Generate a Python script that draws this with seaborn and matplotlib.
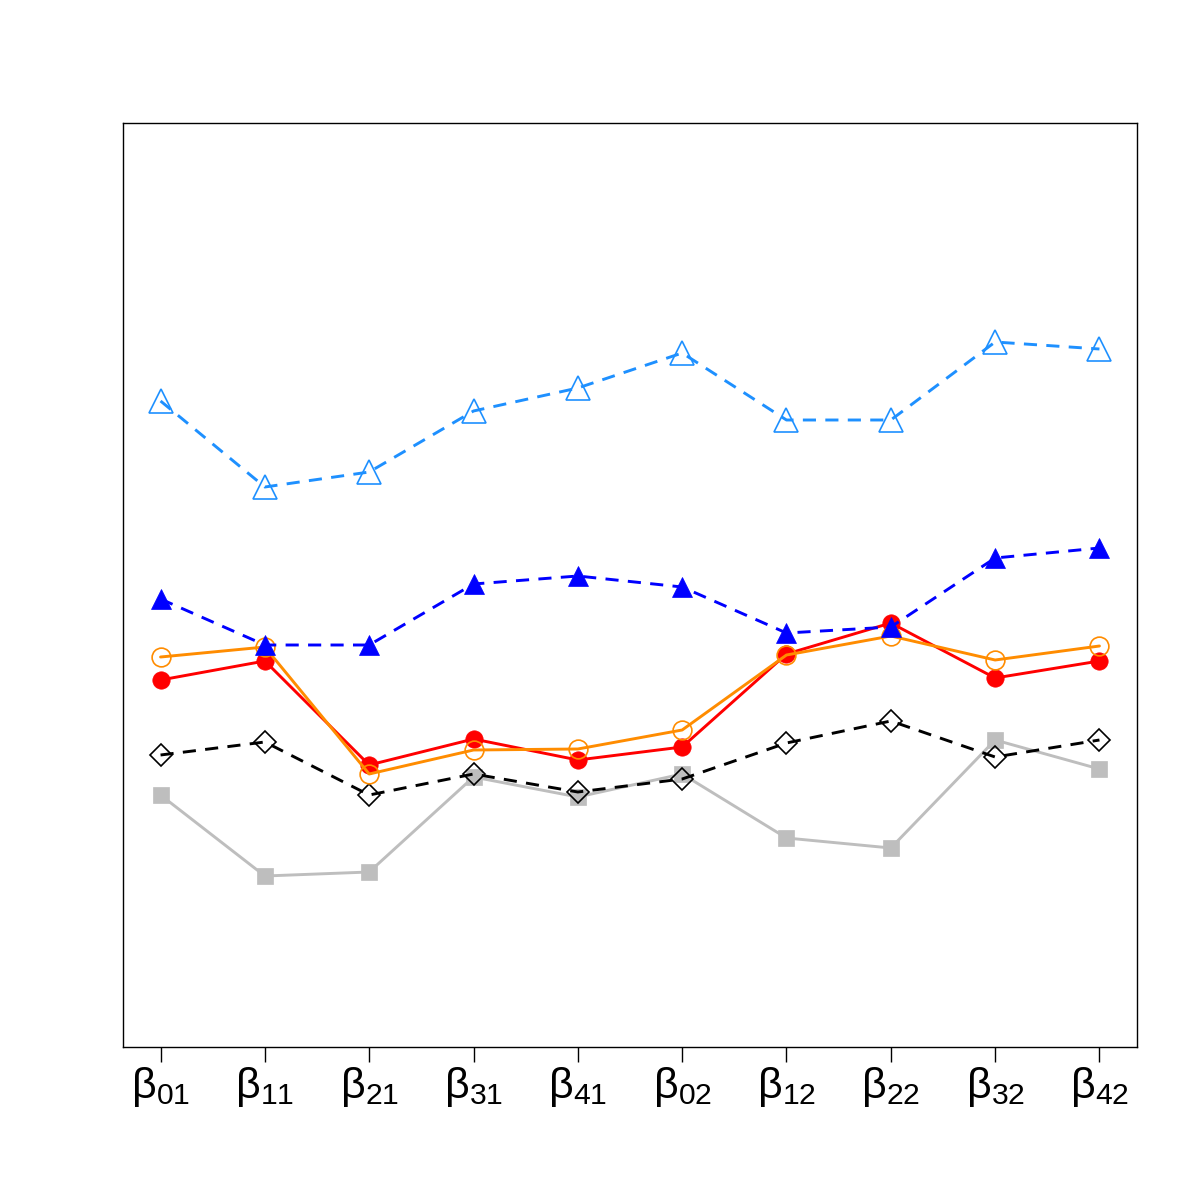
import matplotlib
matplotlib.use("Agg")
import matplotlib.pyplot as plt
import seaborn as sns
import numpy as np

# Parameter labels
params = ["01", "11", "21", "31", "41", "02", "12", "22", "32", "42"]
x = np.arange(1, 11)

# Series values (arbitrary units)
s_lightblue = [6.46, 5.60, 5.75, 6.36, 6.59, 6.94, 6.27, 6.27, 7.05, 6.98]
s_blue      = [4.48, 4.02, 4.02, 4.63, 4.71, 4.60, 4.14, 4.20, 4.89, 4.99]
s_orange    = [3.90, 4.00, 2.73, 2.97, 2.98, 3.17, 3.92, 4.11, 3.87, 4.01]
s_red       = [3.67, 3.86, 2.82, 3.08, 2.87, 3.00, 3.93, 4.24, 3.69, 3.86]
s_black     = [2.92, 3.05, 2.52, 2.73, 2.55, 2.68, 3.04, 3.26, 2.90, 3.07]
s_gray      = [2.52, 1.71, 1.75, 2.70, 2.50, 2.73, 2.09, 1.99, 3.07, 2.78]

sns.set_theme(style="white")
plt.rcParams['font.family'] = ['Liberation Sans', 'DejaVu Sans']
plt.rcParams['mathtext.fontset'] = 'custom'
plt.rcParams['mathtext.rm'] = 'Liberation Sans'
plt.rcParams['mathtext.it'] = 'Liberation Sans'
plt.rcParams['mathtext.sf'] = 'Liberation Sans'
plt.rcParams['text.color'] = 'black'
plt.rcParams['xtick.color'] = 'black'
plt.rcParams['xtick.labelcolor'] = 'black'

fig = plt.figure(figsize=(12, 12), dpi=100)
ax = fig.add_axes([123/1200, 1 - 1047/1200, (1137-123)/1200, (1047-123)/1200])

dash = (0, (4.5, 3.2))
lw = 2.1
series = [
    (s_gray, "#BEBEBE", "-", "s", 11, True),
    (s_black, "black", dash, "D", 12, False),
    (s_red, "red", "-", "o", 12.5, True),
    (s_orange, "#FF8C00", "-", "o", 13.5, False),
    (s_blue, "blue", dash, "^", 15, True),
    (s_lightblue, "#1E90FF", dash, "^", 17, False),
]
for vals, col, ls, mk, ms, filled in series:
    kw = dict(marker=mk, markersize=ms, markeredgecolor=col, linewidth=lw,
              linestyle=ls, color=col)
    if filled:
        kw["markerfacecolor"] = col
        kw["markeredgewidth"] = 0.5
    else:
        kw["markerfacecolor"] = "none"
        kw["markeredgewidth"] = 1.2
    if mk == "D":
        kw["markersize"] = 11.5
    sns.lineplot(x=x, y=vals, ax=ax, **kw)

ax.set_xlim(0.64, 10.36)
ax.set_ylim(0.0, 9.24)
ax.set_xticks(x)
ax.set_xticklabels([r"β$_{\mathregular{%s}}$" % p for p in params], fontsize=31,
                   color="black")
ax.set_yticks([])
ax.tick_params(axis="x", direction="out", length=11, width=1.0, color="black",
               bottom=True, pad=2)
for sp in ax.spines.values():
    sp.set_visible(True)
    sp.set_color("black")
    sp.set_linewidth(1.0)
ax.set_xlabel("")
ax.set_ylabel("")
ax.grid(False)
fig.savefig("out.png", dpi=100)
